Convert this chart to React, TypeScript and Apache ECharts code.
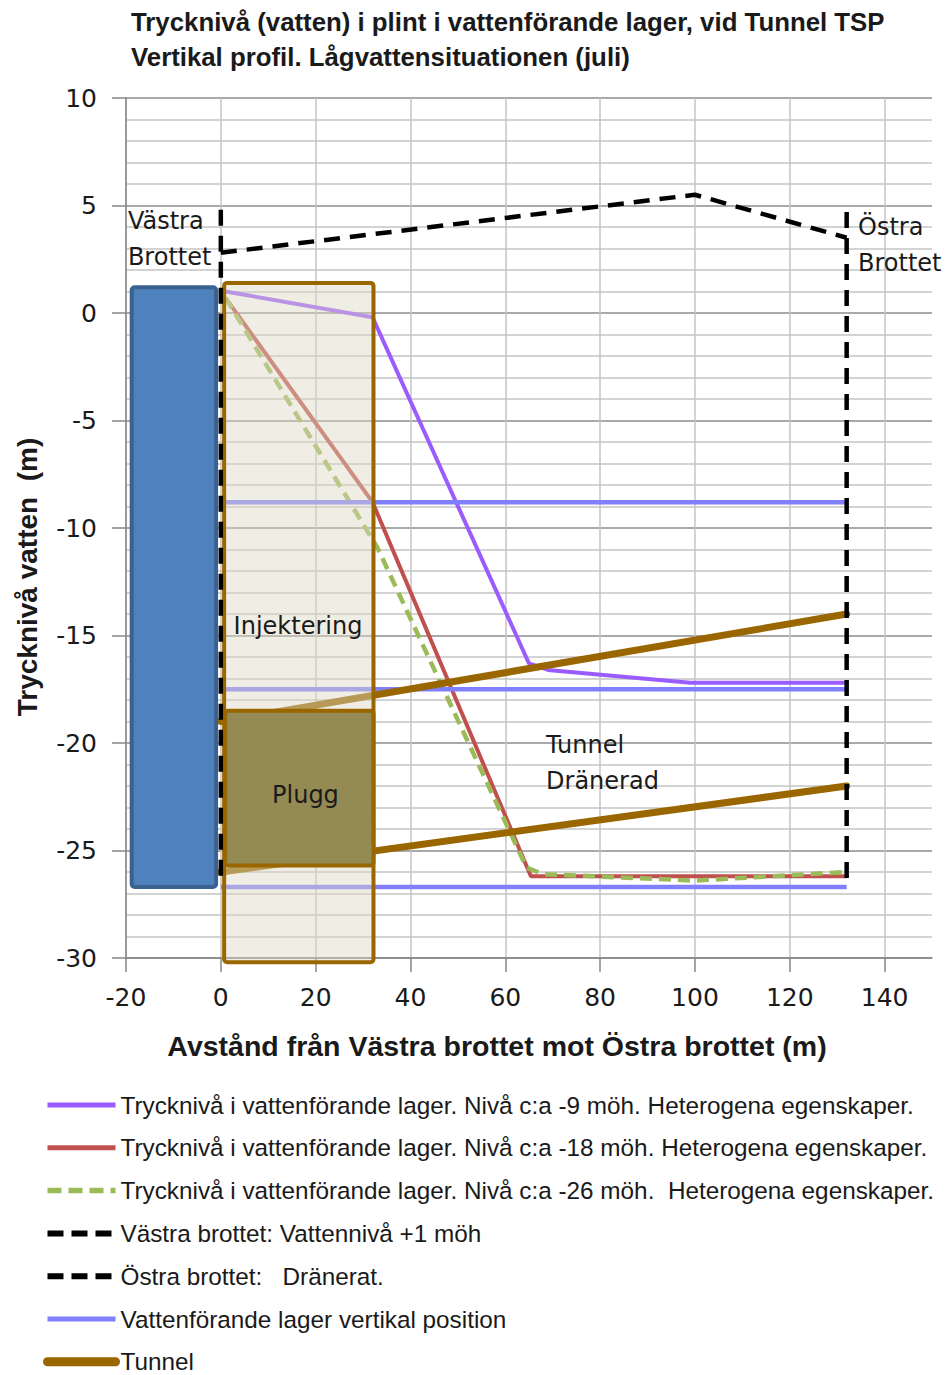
import React, { useEffect, useRef } from "react";
import * as echarts from "echarts";

const W = 946;
const H = 1375;

const titleLine1 = "Trycknivå (vatten) i plint i vattenförande lager, vid Tunnel TSP";
const titleLine2 = "Vertikal profil. Lågvattensituationen (juli)";
const yTitle = "Trycknivå vatten  (m)";
const xTitle = "Avstånd från Västra brottet mot Östra brottet (m)";

const xLabelValues = [-20, 0, 20, 40, 60, 80, 100, 120, 140];

const seriesNames = [
  "Trycknivå i vattenförande lager. Nivå c:a -9 möh. Heterogena egenskaper.",
  "Trycknivå i vattenförande lager. Nivå c:a -18 möh. Heterogena egenskaper.",
  "Trycknivå i vattenförande lager. Nivå c:a -26 möh.  Heterogena egenskaper.",
  "Västra brottet: Vattennivå +1 möh",
  "Östra brottet:   Dränerat.",
  "Vattenförande lager vertikal position",
  "Tunnel",
];

// Pressure levels [x (m), level (m)]
const level9 = [[1, 1.0], [32, -0.2], [65, -16.3], [69, -16.6], [99, -17.2], [132, -17.2]];
const level18 = [[1, 0.7], [32, -8.8], [65.4, -26.2], [132, -26.2]];
const level26 = [[1, 0.7], [33, -10.9], [64.5, -25.8], [68, -26.1], [100, -26.4], [132, -26.0]];

// Quarry edges and ground surface
const westEdge = [[0, 4.8], [0, -26.3]];
const groundSurface = [[0, 2.8], [100, 5.5], [132, 3.5]];
const eastEdge = [[132, 4.7], [132, -26.3]];

// Water-bearing layers (horizontal)
const layerLevels = [-8.8, -17.5, -26.7];
const layerFrom = 0;
const layerTo = 132;

// Tunnel roof and floor
const tunnelRoof = [[0, -19.0], [132, -14.0]];
const tunnelFloor = [[0, -26.0], [132, -22.0]];

// Blocks: west rock, injection zone, plug
const blockX0 = [-18.8, 0.7, 0.9];
const blockX1 = [-1.0, 32.2, 32.2];
const blockTop = [1.2, 1.4, -18.5];
const blockBottom = [-26.7, -30.2, -25.7];

// Annotations
const noteTexts = ["Västra\nBrottet", "Östra\nBrottet", "Injektering", "Plugg", "Tunnel\nDränerad"];
const noteX = [-19.6, 134.4, 2.7, 10.8, 68.6];
const noteY = [3.44, 3.16, -14.56, -22.4, -20.93];

const blockStyles = [
  { fill: "#4f81bd", stroke: "#3a6190", lineWidth: 4 },
  { fill: "rgba(221,217,195,0.45)", stroke: "#996600", lineWidth: 4 },
  { fill: "#948a54", stroke: "#996600", lineWidth: 4 },
];

const TXT = "#1a1a1a";

function lineSeries(name: string, data: number[][], lineStyle: any, z: number) {
  return {
    type: "line",
    name,
    data,
    symbol: "none",
    showSymbol: false,
    silent: true,
    z,
    lineStyle,
  };
}

const purpleStyle = { color: "#9b5cff", width: 4 };
const redStyle = { color: "#c0504d", width: 4 };
const greenStyle = { color: "#9bbb59", width: 4.5, type: [12, 7] };
const blackStyle = { color: "#000000", width: 4.5, type: [16, 10] };
const blueStyle = { color: "#8080ff", width: 4.5 };
const tunnelStyle = { color: "#996600", width: 7, cap: "round" };

export default function App() {
  const ref = useRef<HTMLDivElement>(null);

  useEffect(() => {
    const chart = echarts.init(ref.current!, null, { renderer: "svg", width: W, height: H });

    const series: any[] = [
      lineSeries(seriesNames[0], level9, purpleStyle, 2),
      lineSeries(seriesNames[1], level18, redStyle, 2),
      lineSeries(seriesNames[2], level26, greenStyle, 2),
      lineSeries(seriesNames[3], westEdge, blackStyle, 4),
      lineSeries(seriesNames[3], groundSurface, blackStyle, 4),
      lineSeries(seriesNames[4], eastEdge, blackStyle, 4),
      ...layerLevels.map((lv) =>
        lineSeries(seriesNames[5], [[layerFrom, lv], [layerTo, lv]], blueStyle, 2)
      ),
      lineSeries(seriesNames[6], tunnelRoof, tunnelStyle, 2),
      lineSeries(seriesNames[6], tunnelFloor, tunnelStyle, 2),
      {
        type: "custom",
        name: "blocks",
        z: 3,
        silent: true,
        data: blockX0.map((x0, i) => [x0, blockTop[i], blockX1[i], blockBottom[i]]),
        encode: { x: [0, 2], y: [1, 3] },
        renderItem: (params: any, api: any) => {
          const i = params.dataIndex;
          const a = api.coord([api.value(0), api.value(1)]);
          const b = api.coord([api.value(2), api.value(3)]);
          const st = blockStyles[i];
          return {
            type: "rect",
            shape: { x: a[0], y: a[1], width: b[0] - a[0], height: b[1] - a[1], r: 3 },
            style: { fill: st.fill, stroke: st.stroke, lineWidth: st.lineWidth },
          };
        },
      },
      {
        type: "custom",
        name: "notes",
        z: 5,
        silent: true,
        data: noteX.map((x, i) => [x, noteY[i]]),
        encode: { x: 0, y: 1 },
        renderItem: (params: any, api: any) => {
          const i = params.dataIndex;
          const p = api.coord([api.value(0), api.value(1)]);
          return {
            type: "text",
            x: p[0],
            y: p[1],
            style: {
              text: noteTexts[i],
              fontFamily: "DejaVu Sans",
              fontSize: 24,
              lineHeight: 36,
              fill: TXT,
              align: "left",
              verticalAlign: "middle",
            },
          };
        },
      },
    ];

    const legendStyles = [
      { ...purpleStyle, width: 5 },
      { ...redStyle, width: 5 },
      { ...greenStyle, width: 5.5, type: [14, 7] },
      { ...blackStyle, width: 6, type: [16, 8] },
      { ...blackStyle, width: 6, type: [16, 8] },
      { ...blueStyle, width: 5 },
      { ...tunnelStyle, width: 9 },
    ];

    chart.setOption({
      animation: false,
      backgroundColor: "#ffffff",
      title: {
        text: titleLine1 + "\n" + titleLine2,
        left: 131,
        top: 4,
        padding: 0,
        textStyle: {
          fontFamily: "Liberation Sans",
          fontWeight: "bold",
          fontSize: 25.8,
          lineHeight: 35,
          color: TXT,
        },
      },
      grid: { left: 126, right: 14, top: 98, bottom: 417, containLabel: false },
      xAxis: {
        type: "value",
        min: -20,
        max: 150,
        interval: 4,
        axisLine: { show: true, onZero: false, lineStyle: { color: "#868686", width: 1.5 } },
        axisTick: { show: true, length: 14, customValues: xLabelValues, lineStyle: { color: "#868686", width: 1.5 } },
        axisLabel: {
          customValues: xLabelValues,
          margin: 27,
          fontFamily: "DejaVu Sans",
          fontSize: 25,
          color: TXT,
        },
        splitLine: { show: true, lineStyle: { color: "#c4c4c4", width: 1.5 } },
      },
      yAxis: {
        type: "value",
        min: -30,
        max: 10,
        interval: 5,
        axisLine: { show: true, onZero: false, lineStyle: { color: "#868686", width: 1.5 } },
        axisTick: { show: true, length: 14, lineStyle: { color: "#868686", width: 1.5 } },
        axisLabel: {
          margin: 29,
          fontFamily: "DejaVu Sans",
          fontSize: 25,
          color: TXT,
        },
        splitLine: { show: true, lineStyle: { color: "#8c8c8c", width: 1.5 } },
        minorTick: { show: false, splitNumber: 5 },
        minorSplitLine: { show: true, lineStyle: { color: "#c4c4c4", width: 1.5 } },
      },
      legend: {
        orient: "vertical",
        left: 43,
        top: 1093,
        height: 300,
        padding: 0,
        itemWidth: 68,
        itemHeight: 14,
        itemGap: 18.8,
        selectedMode: false,
        textStyle: { fontFamily: "Liberation Sans", fontSize: 24.3, lineHeight: 24, color: TXT },
        data: seriesNames.map((n, i) => ({
          name: n,
          itemStyle: { opacity: 0 },
          lineStyle: { ...legendStyles[i] },
        })),
      },
      graphic: [
        {
          type: "text",
          x: 27,
          y: 577,
          rotation: Math.PI / 2,
          style: {
            text: yTitle,
            fontFamily: "Liberation Sans",
            fontWeight: "bold",
            fontSize: 28,
            fill: TXT,
            align: "center",
            verticalAlign: "middle",
          },
        },
        {
          type: "text",
          x: 497,
          y: 1046,
          style: {
            text: xTitle,
            fontFamily: "Liberation Sans",
            fontWeight: "bold",
            fontSize: 28.5,
            fill: TXT,
            align: "center",
            verticalAlign: "middle",
          },
        },
      ],
      series,
    });

    return () => chart.dispose();
  }, []);

  return (
    <div
      ref={ref}
      style={{ position: "absolute", left: 0, top: 0, width: W, height: H, background: "#ffffff" }}
    />
  );
}
